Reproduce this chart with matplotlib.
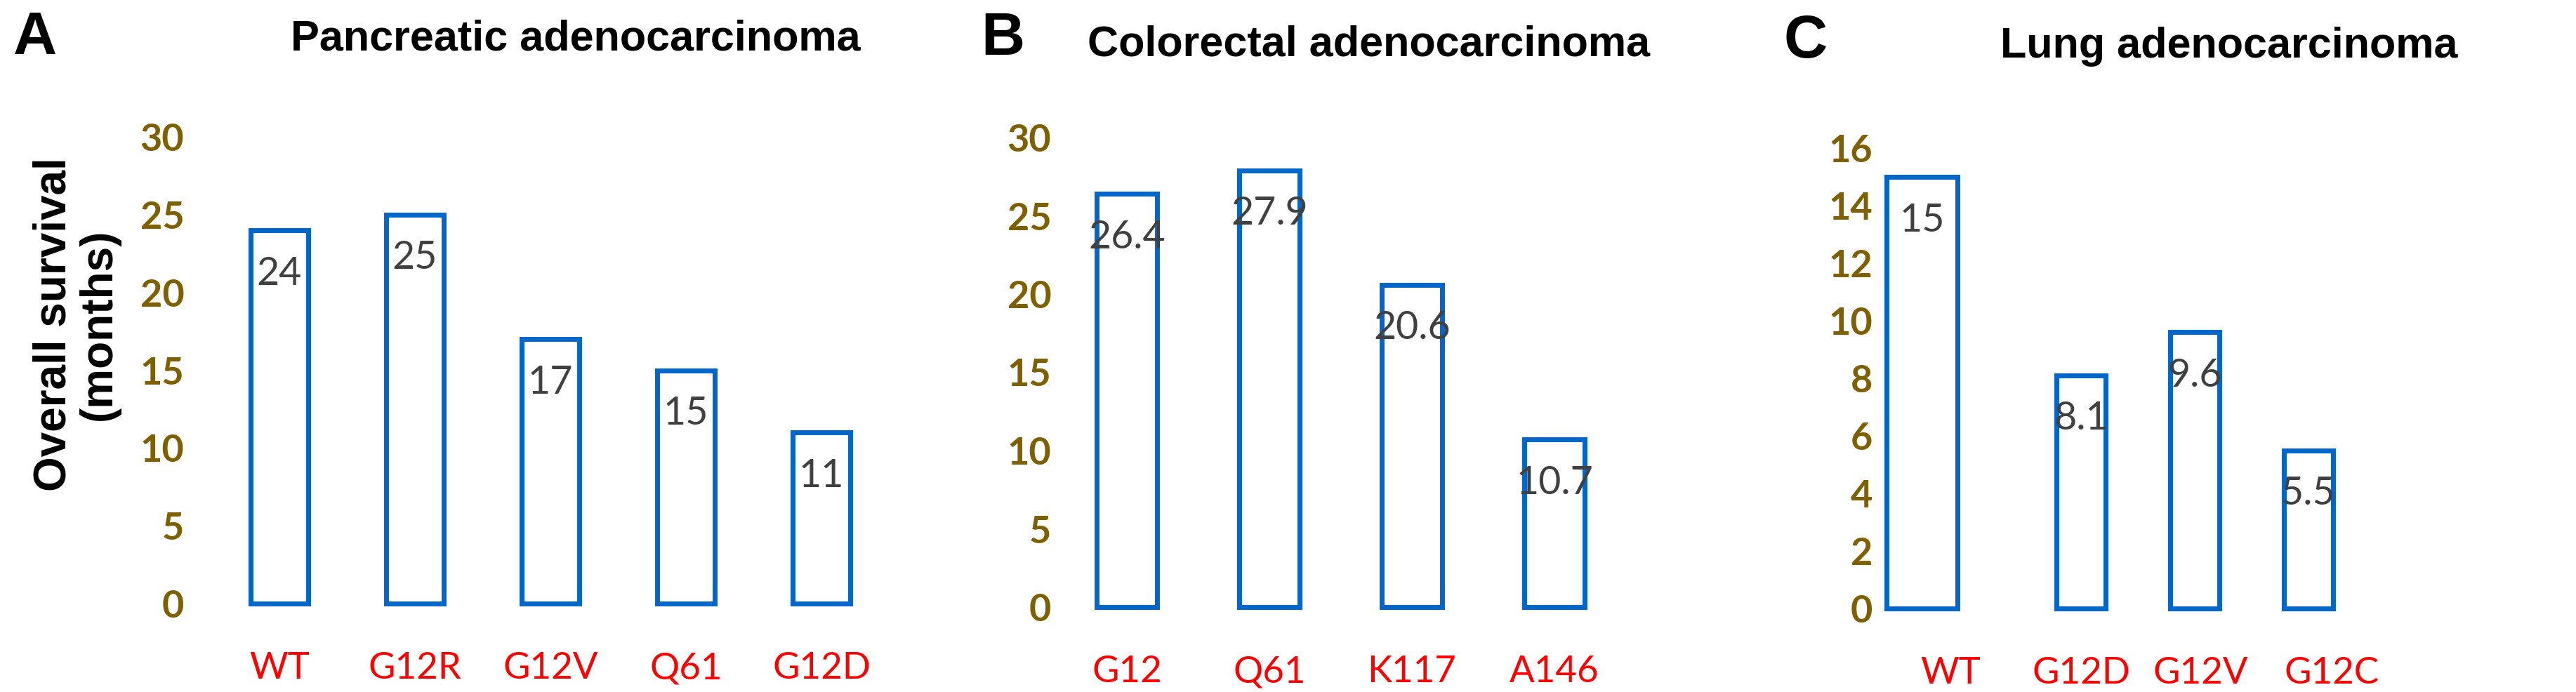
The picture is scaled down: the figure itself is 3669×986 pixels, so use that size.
import matplotlib
matplotlib.use("Agg")
import matplotlib.pyplot as plt

# DATA
panel_letters = ["A", "B", "C"]
panel_titles = ["Pancreatic adenocarcinoma", "Colorectal adenocarcinoma", "Lung adenocarcinoma"]

pancreatic_labels = ["WT", "G12R", "G12V", "Q61", "G12D"]
pancreatic_os = [24, 25, 17, 15, 11]

colorectal_labels = ["G12", "Q61", "K117", "A146"]
colorectal_os = [26.4, 27.9, 20.6, 10.7]

lung_labels = ["WT", "G12D", "G12V", "G12C"]
lung_os = [15, 8.1, 9.6, 5.5]

pancreatic_ticks = [0, 5, 10, 15, 20, 25, 30]
colorectal_ticks = [0, 5, 10, 15, 20, 25, 30]
lung_ticks = [0, 2, 4, 6, 8, 10, 12, 14, 16]

ylabel = "Overall survival\n(months)"

# LAYOUT (pixels on a 3669 x 986 canvas)
W, H = 3669, 986
DPI = 100
BAR_BLUE = "#0066CC"
TICK_GOLD = "#7F6000"
CAT_RED = "#FF0000"
VAL_GREY = "#404040"
SANS = ["Lato", "DejaVu Sans"]
ARIAL = ["Liberation Sans", "DejaVu Sans"]

fig = plt.figure(figsize=(W / DPI, H / DPI), dpi=DPI)

def px_axes(left, right, top, bottom):
    return fig.add_axes([left / W, 1 - bottom / H, (right - left) / W, (bottom - top) / H])

def draw_panel(ax, labels, values, ticks, ymax, bar_x, tick_x, widths):
    ax.bar(bar_x, values, width=widths, color="white", edgecolor=BAR_BLUE,
           linewidth=5, clip_on=False)
    for x, v in zip(bar_x, values):
        ax.annotate(f"{v:g}", xy=(x, v), xytext=(0, -62), textcoords="offset pixels",
                    ha="center", va="center", fontsize=40, color=VAL_GREY, family=SANS)
    ax.set_ylim(0, ymax)
    ax.set_yticks(ticks)
    ax.set_yticklabels([str(t) for t in ticks], fontsize=39, color=TICK_GOLD,
                       fontweight="bold", family=SANS)
    ax.set_xticks(tick_x)
    ax.set_xticklabels(labels, fontsize=38, color=CAT_RED, family=SANS)
    ax.tick_params(axis="both", length=0)
    ax.tick_params(axis="y", pad=12)
    ax.tick_params(axis="x", pad=50)
    for s in ax.spines.values():
        s.set_visible(False)

# PANEL A  (first bar centre 398 px, spacing 193 px)
ax1 = px_axes(279, 1300, 195, 860)
ax1.set_xlim(-(398 - 279) / 193, (1300 - 398) / 193)
draw_panel(ax1, pancreatic_labels, pancreatic_os, pancreatic_ticks, 30,
           bar_x=[0, 1, 2, 3, 4], tick_x=[0, 1, 2, 3, 4], widths=0.42)

# PANEL B  (first bar centre 1605 px, spacing 203 px)
ax2 = px_axes(1514, 2400, 196, 865)
ax2.set_xlim(-(1605 - 1514) / 203, (2400 - 1605) / 203)
draw_panel(ax2, colorectal_labels, colorectal_os, colorectal_ticks, 30,
           bar_x=[0, 1, 2, 3], tick_x=[0, 1, 2, 3], widths=0.42)

# PANEL C  (bars and labels are not evenly placed in the original)
ax3 = px_axes(2684, 3550, 211, 867)
ax3.set_xlim(-(2786 - 2684) / 162, (3550 - 2786) / 162)
draw_panel(ax3, lung_labels, lung_os, lung_ticks, 16,
           bar_x=[-0.3, 1.1, 2.1, 3.1], tick_x=[-0.05, 1.1, 2.15, 3.3],
           widths=[0.62, 0.43, 0.43, 0.43])

# PANEL LETTERS AND TITLES
for letter, lx, ly in zip(panel_letters, [19, 1397, 2540], [77, 78, 82]):
    fig.text(lx / W, 1 - ly / H, letter, fontsize=62, fontweight="bold",
             family=ARIAL, ha="left", va="baseline")
for title, tx, ty in zip(panel_titles, [820, 1950, 3175], [72, 80, 82]):
    fig.text(tx / W, 1 - ty / H, title, fontsize=44, fontweight="bold",
             family=ARIAL, ha="center", va="baseline")

fig.text(109 / W, 1 - 462 / H, ylabel, rotation=90, ha="center", va="center",
         multialignment="center", fontsize=46, fontweight="bold",
         family=ARIAL, linespacing=1.1)

fig.savefig("out.png", dpi=DPI)
